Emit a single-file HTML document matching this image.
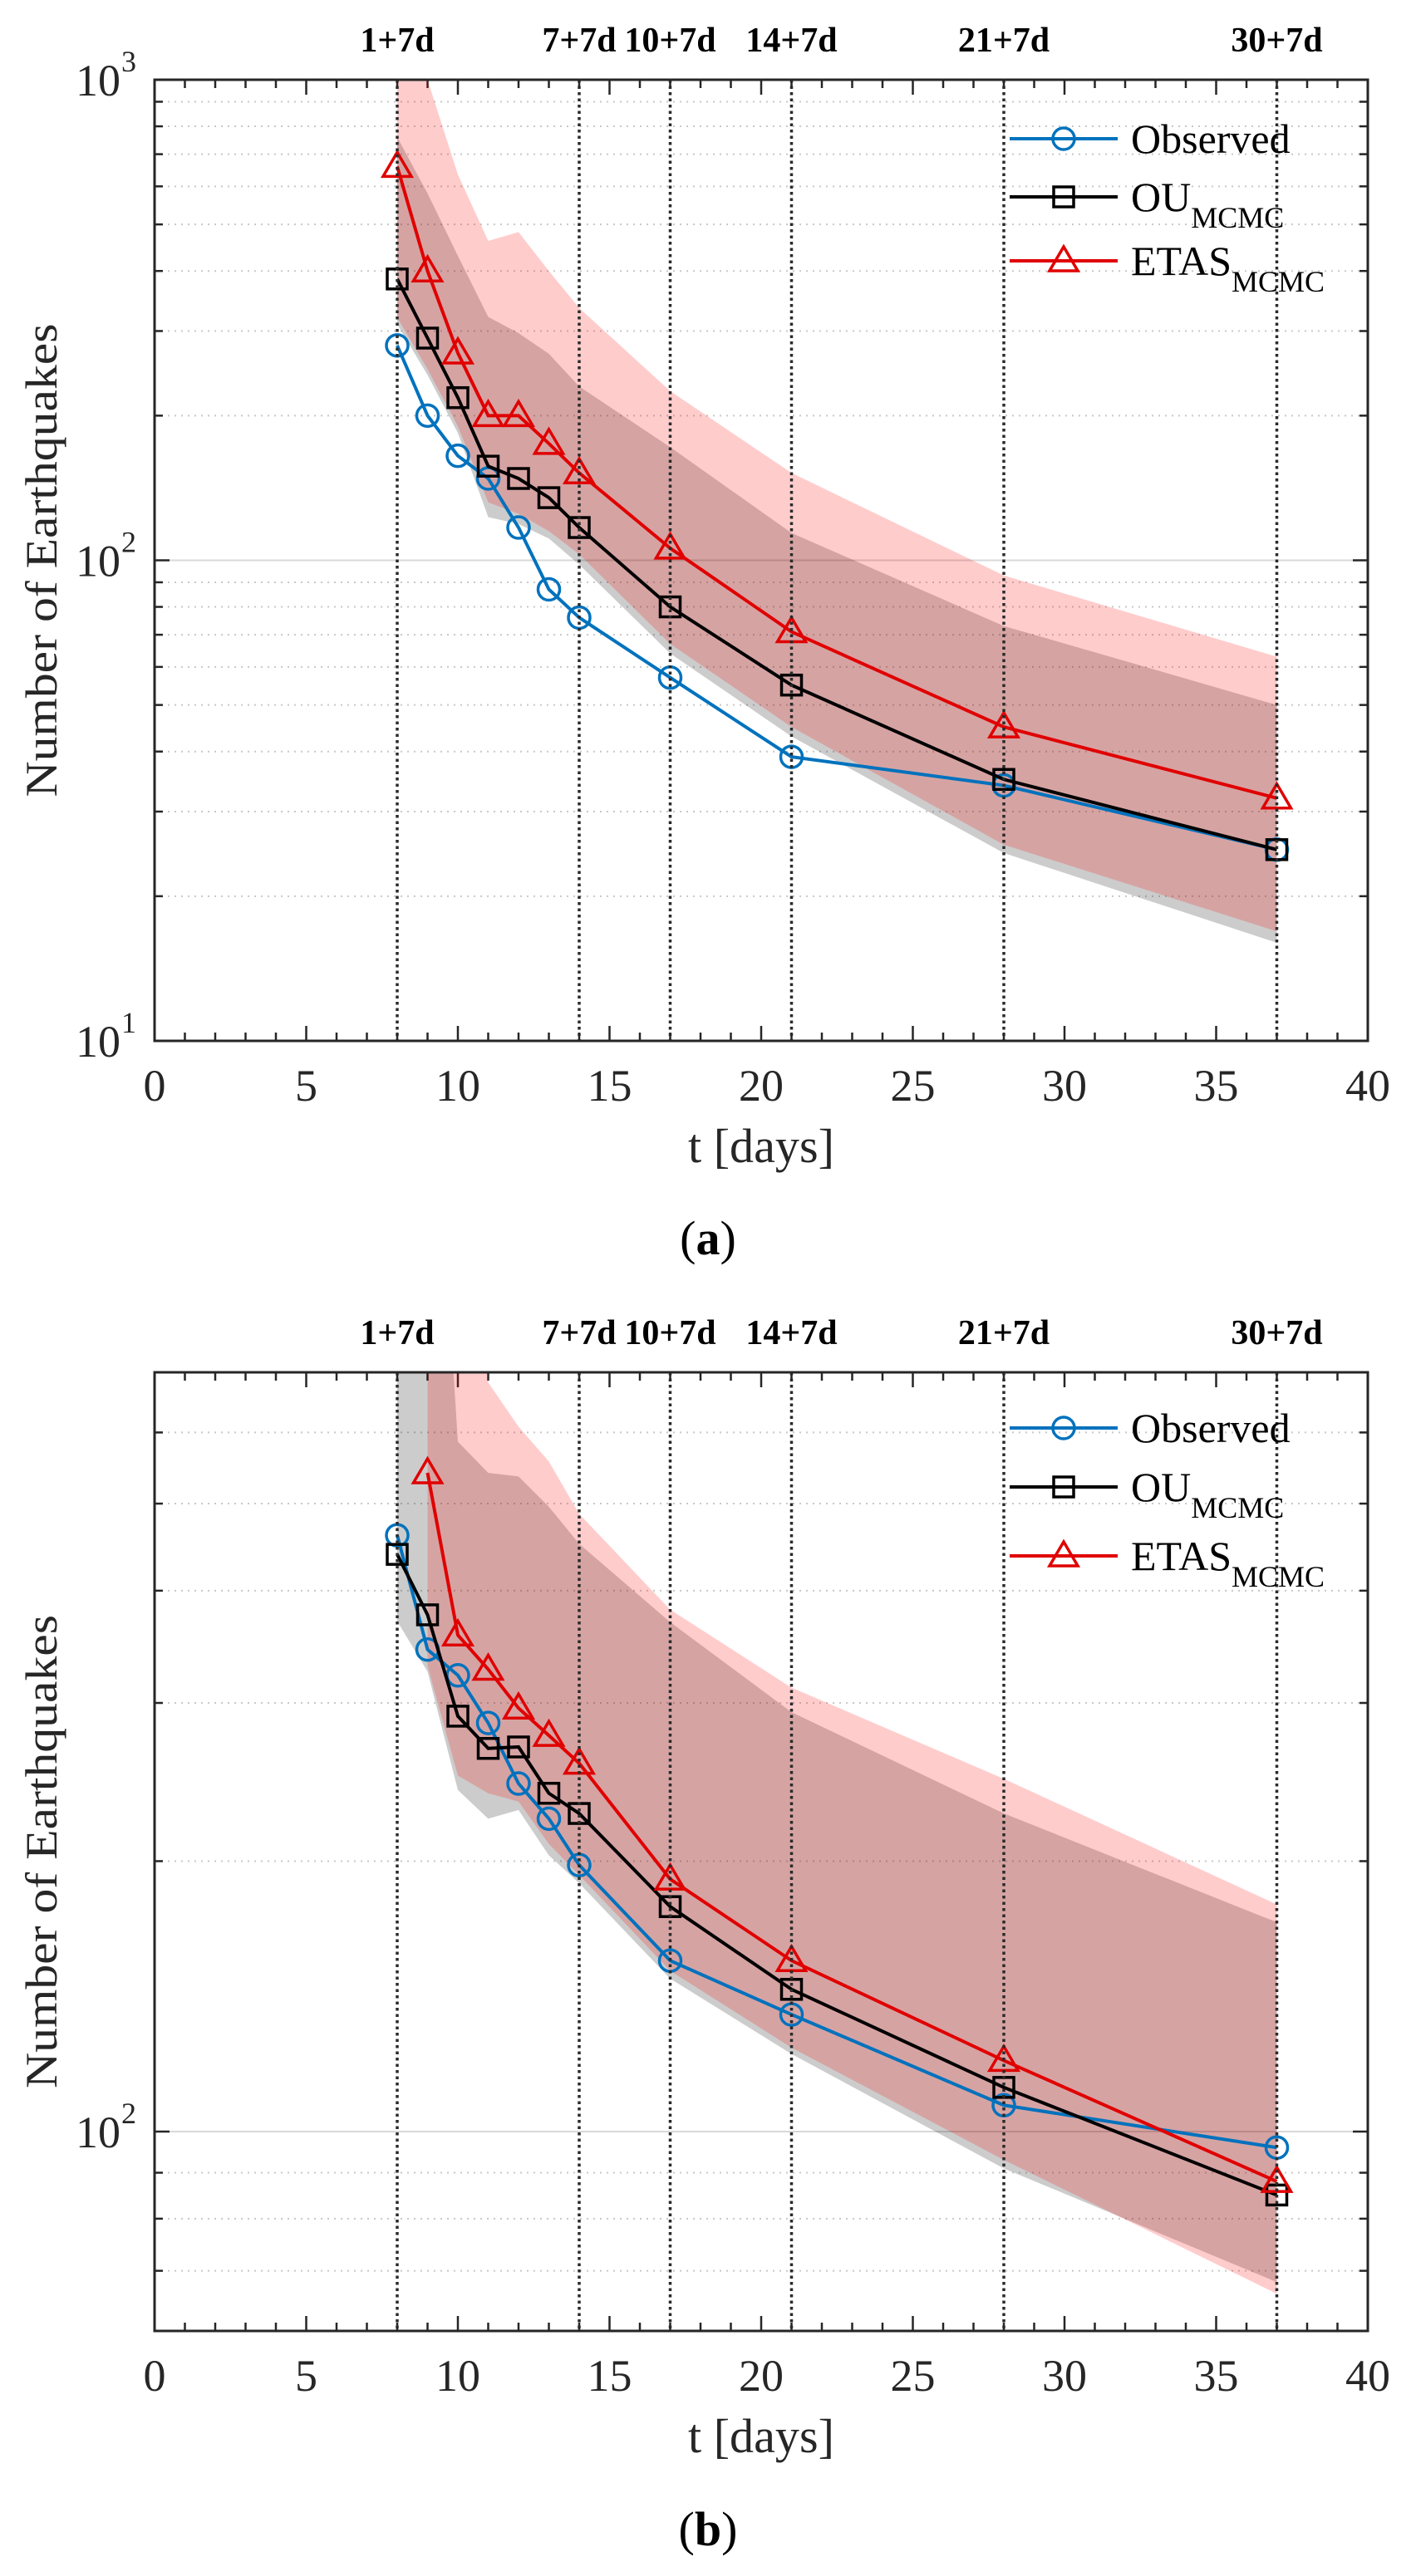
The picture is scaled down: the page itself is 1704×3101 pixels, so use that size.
<!DOCTYPE html>
<html><head><meta charset="utf-8"><style>
html,body{margin:0;padding:0;background:#fff;}
svg{display:block;}
text{font-family:"Liberation Serif",serif;}
</style></head>
<body>
<svg id="fig" xmlns="http://www.w3.org/2000/svg" width="1704" height="3101" viewBox="0 0 1704 3101"></svg>
<script>
// ---- shared data ----
const tObs = [8,9,10,11,12,13,14,17,21,28,37];
const eventT = [8,14,17,21,28,37];
const eventLabels = ["1+7d","7+7d","10+7d","14+7d","21+7d","30+7d"];
const xTicks = [0,5,10,15,20,25,30,35,40];

// ---- panel (a) data ----
const aObserved = [280,200,165,148,117,87,76,57,39,34,25];
const aOU = [385,290,218,157,148,135,117,80,55,35,25];
const aETAS = [660,400,270,200,200,175,152,106,71,45,32];
const aOUUpper = [760,580,430,321,297,269,230,172,114,73,50];
const aOULower = [310,243,184,123,119,111,98,64,43,24.6,16];
const aETASUpper = [1400,1000,635,462,482,400,335,225,152,93,63];
const aETASLower = [320,250,190,132,125,115,103,67,45,25.6,16.9];
const tBandA = [8,9,10,11,12,13,14,17,21,28,37];

// ---- panel (b) data ----
const bObserved = [461,344,322,285,244,223,198,155,135,107,96];
const bOU = [439,376,290,267,268,238,226,178,144,112,85];
const bETAS = [null,541,357,327,296,276,257,191,155,120,88];
const bOUUpper = [2000,2000,586,541,536,496,451,369,293,226,171];
const bOULower = [370,325,240,223,228,203,189,148,122,91,68];
const tRedB = [9,10,11,12,13,14,17,21,28,37];
const bETASUpper = [2000,1500,682,609,557,487,381,312,247,179];
const bETASLower = [330,249,238,233,209,193,151,124,93,66];

const NS = "http://www.w3.org/2000/svg";
const fig = document.getElementById('fig');
function mk(tag, attrs, parent){
  const e = document.createElementNS(NS, tag);
  for (const k in attrs) e.setAttribute(k, attrs[k]);
  (parent||fig).appendChild(e);
  return e;
}

function panel(cfg){
  const L=186, R=1646, T=cfg.top, B=cfg.bottom;
  const lmin=Math.log10(cfg.ymin), lmax=Math.log10(cfg.ymax);
  const X = t => L + (t-0)/(40-0)*(R-L);
  const Y = v => B - (Math.log10(v)-lmin)/(lmax-lmin)*(B-T);
  const g = mk('g', {});
  
  
  const clipId = 'clip-'+cfg.name;
  const defs = mk('defs', {}, g);
  const cp = mk('clipPath', {id: clipId}, defs);
  mk('rect', {x:L, y:T, width:R-L, height:B-T}, cp);

  // grid
  const grid = mk('g', {}, g);
  
  
  const e0 = Math.floor(lmin), e1 = Math.ceil(lmax);
  for (let e=e0; e<=e1; e++){
    for (let m=1; m<10; m++){
      const v = m*Math.pow(10,e);
      if (v < cfg.ymin-1e-9 || v > cfg.ymax+1e-9) continue;
      const y = Y(v);
      const major = (m===1);
      if (y > T+1 && y < B-1){
        const ln = mk('line', {x1:L, x2:R, y1:y, y2:y, stroke: major?'#d8d8d8':'#c8c8c8', 'stroke-width': 2, 'stroke-dasharray': major?'':'2,6'}, grid);
        
        
      }
      const tl = major?18:10;
      mk('line', {x1:L, x2:L+tl, y1:y, y2:y, stroke:'#262626', 'stroke-width':2.5}, grid);
      mk('line', {x1:R, x2:R-tl, y1:y, y2:y, stroke:'#262626', 'stroke-width':2.5}, grid);
      if (major){
        const tx = mk('text', {x:145, y:y+19, 'font-size':54, 'text-anchor':'end', fill:'#262626'}, g);
        tx.textContent = '10';
        
        
        const sp = mk('text', {x:146, y:y-10, 'font-size':36, fill:'#262626'}, g);
        sp.textContent = String(e);
        
        
      }
    }
  }
  // x ticks
  for (let t=0; t<=40; t++){
    const x = X(t);
    const major = (t%5===0);
    const tl = major?18:10;
    mk('line', {x1:x, x2:x, y1:B, y2:B-tl, stroke:'#262626', 'stroke-width':2.5}, g);
    mk('line', {x1:x, x2:x, y1:T, y2:T+tl, stroke:'#262626', 'stroke-width':2.5}, g);
  }
  xTicks.forEach(t=>{
    const tx = mk('text', {x:X(t), y:B+72, 'font-size':54, 'text-anchor':'middle', fill:'#262626'}, g);
    tx.textContent = String(t);
    
    
  });

  const plot = mk('g', {'clip-path':'url(#'+clipId+')'}, g);
  function band(ts, up, lo, fill, name){
    let d = '';
    ts.forEach((t,i)=>{ d += (i?'L':'M') + X(t) + ',' + Y(up[i]) + ' '; });
    for (let i=ts.length-1;i>=0;i--) d += 'L' + X(ts[i]) + ',' + Y(lo[i]) + ' ';
    d += 'Z';
    const p = mk('path', {d:d, fill:fill, 'fill-opacity':0.2, stroke:'none'}, plot);
    
    
  }
  band(cfg.tOU, cfg.ouUp, cfg.ouLo, '#000000', 'ou-confidence-band');
  band(cfg.tRed, cfg.etUp, cfg.etLo, '#ff0000', 'etas-confidence-band');

  eventT.forEach((t,i)=>{
    const ln = mk('line', {x1:X(t), x2:X(t), y1:T, y2:B, stroke:'#2a2a2a', 'stroke-width':3.5, 'stroke-dasharray':'3.5,4'}, g);
    
    
    const tx = mk('text', {x:X(t), y:T-34, 'font-size':42, 'font-weight':'bold', 'text-anchor':'middle', fill:'#000'}, g);
    tx.textContent = eventLabels[i];
    
    
  });

  function marker(par, kind, x, y, col){
    if (kind==='o') return mk('circle', {cx:x, cy:y, r:13, fill:'none', stroke:col, 'stroke-width':3.5}, par);
    if (kind==='s') return mk('rect', {x:x-12, y:y-12, width:24, height:24, fill:'none', stroke:col, 'stroke-width':3.5}, par);
    return mk('polygon', {points:(x)+','+(y-17)+' '+(x-17)+','+(y+12)+' '+(x+17)+','+(y+12), fill:'none', stroke:col, 'stroke-width':3.5}, par);
  }
  function series(vals, col, kind, name){
    const sg = mk('g', {}, plot);
    
    
    const pts = [];
    vals.forEach((v,i)=>{ if (v!==null) pts.push([X(tObs[i]), Y(v)]); });
    mk('polyline', {points: pts.map(p=>p.join(',')).join(' '), fill:'none', stroke:col, 'stroke-width':4}, sg);
    pts.forEach(p=>{
      const m = marker(sg, kind, p[0], p[1], col);
      
      
    });
  }
  series(cfg.obs, '#0072BD', 'o', 'observed-series');
  series(cfg.ou, '#000000', 's', 'ou-mcmc-series');
  series(cfg.et, '#e00000', '^', 'etas-mcmc-series');

  const box = mk('rect', {x:L, y:T, width:R-L, height:B-T, fill:'none', stroke:'#262626', 'stroke-width':3}, g);
  
  

  const yl = mk('text', {x:0, y:0, 'font-size':54, 'text-anchor':'middle', fill:'#262626', textLength:570, lengthAdjust:'spacingAndGlyphs', transform:'translate(68,'+((T+B)/2)+') rotate(-90)'}, g);
  yl.textContent = 'Number of Earthquakes';
  
  
  const xl = mk('text', {x:(L+R)/2, y:B+146, 'font-size':58, 'text-anchor':'middle', fill:'#262626', textLength:176, lengthAdjust:'spacingAndGlyphs'}, g);
  xl.textContent = 't [days]';
  
  
  const cap = mk('text', {x:852, y:cfg.capY, 'font-size':58, 'text-anchor':'middle', fill:'#000'}, g);
  cap.innerHTML = '(<tspan font-weight="bold">'+cfg.cap+'</tspan>)';
  
  

  const lg = mk('g', {}, g);
  
  
  const entries = [['Observed','','#0072BD','o'],['OU','MCMC','#000000','s'],['ETAS','MCMC','#e00000','^']];
  entries.forEach((en,i)=>{
    const y = cfg.legY[i];
    const eg = mk('g', {}, lg);
    
    
    mk('line', {x1:1215, x2:1345, y1:y, y2:y, stroke:en[2], 'stroke-width':4}, eg);
    marker(eg, en[3], 1280, y, en[2]);
    const tx = mk('text', {x:1361, y:y+17, 'font-size':50, fill:'#000'}, eg);
    tx.innerHTML = en[0] + (en[1] ? '<tspan font-size="36" dy="20">'+en[1]+'</tspan>' : '');
  });
}

panel({name:'panel-a', top:96, bottom:1253, ymin:10, ymax:1000,
  obs:aObserved, ou:aOU, et:aETAS,
  tOU:tBandA, ouUp:aOUUpper, ouLo:aOULower,
  tRed:tBandA, etUp:aETASUpper, etLo:aETASLower,
  legY:[167,237,314], cap:'a', capY:1510});
panel({name:'panel-b', top:1652, bottom:2806, ymin:60, ymax:700,
  obs:bObserved, ou:bOU, et:bETAS,
  tOU:tObs, ouUp:bOUUpper, ouLo:bOULower,
  tRed:tRedB, etUp:bETASUpper, etLo:bETASLower,
  legY:[1719,1790,1873], cap:'b', capY:3064});
</script>
</body></html>
